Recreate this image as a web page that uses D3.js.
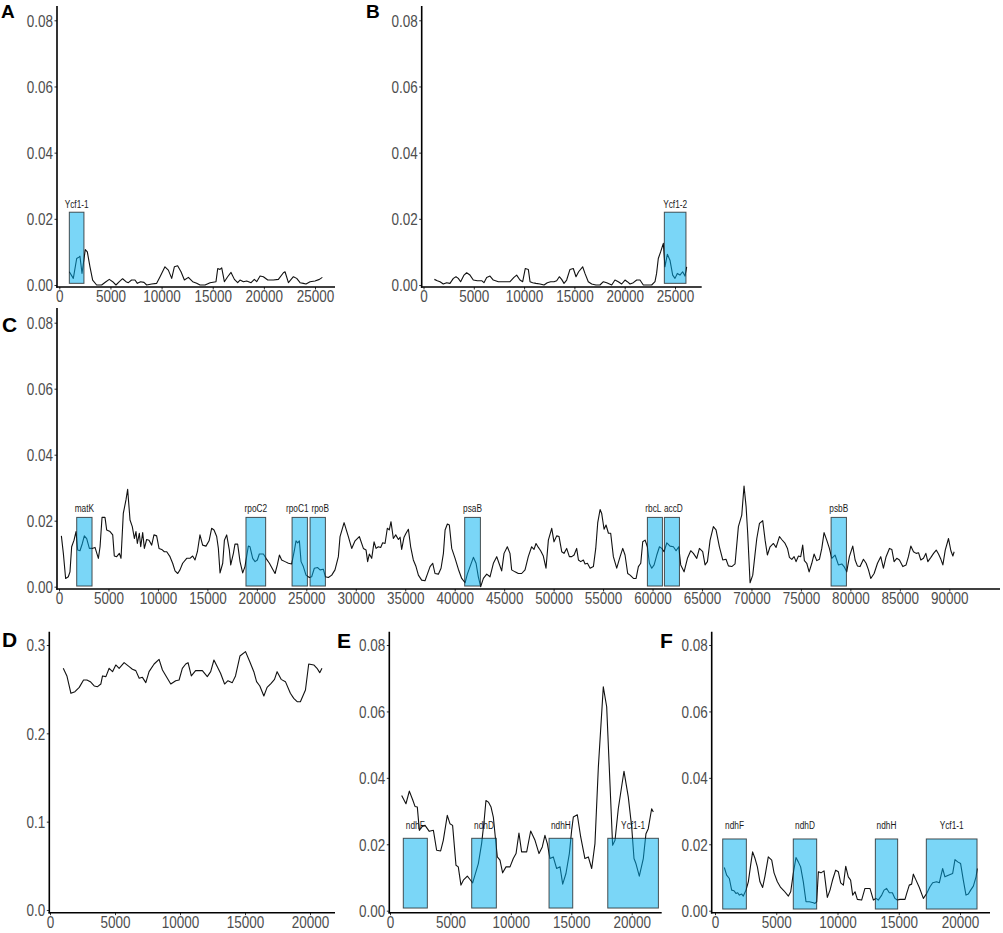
<!DOCTYPE html>
<html lang="en">
<head>
<meta charset="UTF-8">
<title>Nucleotide diversity</title>
<script src="https://d3js.org/d3.v7.min.js"></script>
<style>
  body { margin: 0; background: #fff; }
  svg { display: block; font-family: Arial, "Liberation Sans", sans-serif; }
</style>
</head>
<body>
<script>
// ---- data: window midpoint (bp) and value for each panel ----
var posA = [980,1370,1700,1960,2020,2220,2540,2740,3000,3260,3650,4140,4560,4890,5220,5540,5870,6190,6520,6750,
  7070,7400,7630,7950,8280,8540,9030,9520,9850,10330,10660,10990,11250,11570,11900,12230,12620,13040,13430,13760,
  14250,14740,15320,15490,15710,15880,16140,16460,16790,17120,17440,17670,18000,18320,18750,19070,19300,19630,19950,20380,
  20930,21420,21910,22070,22400,22890,23210,23540,23860,24120,24520,25000,25430,25720];
var valA = [0.004,0.002,0.008,0.0085,0.0087,0.0035,0.0107,0.010,0.0055,0.0015,0,0,0.001,0.0017,0.001,0,0.001,0.0019,0.001,0.0007,
  0.0015,0.0015,0.0005,0.001,0.0008,0,0.0003,0.0005,0.0025,0.0055,0.0045,0.002,0.0055,0.0058,0.004,0.0015,0.0023,0.001,0.0005,0,
  0,0.0007,0.001,0.005,0.0047,0.0052,0.001,0.0025,0.0038,0.0017,0.0007,0.0015,0.001,0.0012,0.0007,0.0017,0.001,0.0027,0.0025,0.0015,
  0.0015,0.0017,0.0037,0.004,0.0007,0.0025,0.002,0.0007,0.0005,0.0003,0.001,0.0012,0.0017,0.0023];

var posB = [1080,1370,1640,1970,2300,2630,2970,3230,3460,3690,4030,4290,4620,4950,5350,5780,6010,6280,6610,6940,
  7440,8100,8600,8990,9260,9590,9860,10120,10420,10590,10850,11180,11580,11980,12310,12640,12970,13240,13500,13730,
  13970,14230,14560,14890,15160,15420,15820,16050,16380,16720,17140,17540,17880,18210,18710,19030,19360,19700,20030,20260,
  20530,20860,21190,21520,21850,22180,22680,23010,23170,23340,23570,23840,24000,24240,24500,24770,25000,25230,25490,25760,
  25990,26160];
var valB = [0.0017,0.0013,0.001,0.0003,0.0007,0.0005,0.002,0.0025,0.002,0.001,0.003,0.0037,0.003,0.0015,0.0013,0.0013,0.0007,0.0023,0.0027,0.0015,
  0.001,0.001,0.001,0.0023,0.003,0.0015,0.001,0.005,0.0047,0.001,0.0007,0.0005,0.0003,0,0.0007,0.001,0.001,0.0013,0.0025,0.0017,
  0.0005,0.0015,0.0047,0.005,0.0025,0.004,0.0055,0.0035,0.001,0.0003,0,0,0.001,0.0007,0,0.0015,0.001,0.0003,0.0015,0.001,
  0.0003,0.0007,0.0015,0.0015,0,0,0,0.001,0.0035,0.008,0.01,0.0126,0.0055,0.0093,0.0075,0.003,0.002,0.0035,0.003,0.004,
  0.0027,0.0055];

var posC = [240,440,670,940,1110,1280,1520,1720,1890,2120,2360,2560,2800,3070,3340,3640,3980,4150,4350,4650,
  4820,5160,5430,5590,5830,6100,6270,6500,6770,6940,7180,7410,7620,7780,7920,8120,8260,8460,8630,8860,
  9100,9370,9600,9870,10110,10380,10650,10890,11220,11490,11730,12000,12230,12500,12910,13240,13510,13750,13990,14250,
  14520,14860,15170,15430,15670,15940,16110,16280,16550,16720,16950,17220,17360,17630,17790,18060,18300,18570,18800,19140,
  19310,19580,19820,20050,20250,20660,20930,21270,21600,21840,22070,22280,22510,22850,23190,23520,23790,23960,24130,24300,
  24470,24700,24970,25310,25540,25810,26150,26390,26720,26930,27230,27570,27900,28240,28410,
  28820,29250,29590,29930,30360,30770,31040,31200,31370,31610,31850,32050,32280,32520,32720,32960,33190,33390,33560,33800,
  34040,34310,34480,34640,34880,35080,35320,35550,35820,36090,36330,36660,37000,37240,37510,37780,38010,38350,38620,38860,
  39030,39260,39460,39700,40040,40370,40710,41050,41280,41550,41890,42160,42390,42630,42900,43240,43570,43910,44250,44480,
  44750,44990,45320,45590,45760,46100,46430,46770,47110,47440,47780,48020,48220,48460,48690,48960,49230,49470,49810,50040,
  50310,50550,50820,51050,51320,51590,51830,52070,52330,52510,52740,53010,53180,53420,53690,54020,54260,54460,54700,54860,
  55100,55300,55540,55770,56040,56380,56720,56990,57220,57490,57730,58070,58340,58570,58810,59010,59250,59480,59680,59920,
  60160,60430,60700,60930,61170,
  61440,61770,62110,62380,62650,62850,63190,63530,63860,64130,64470,64740,65070,65310,65550,65820,66150,66420,66760,67100,
  67430,67670,68010,68340,68680,69020,69250,69460,69620,69860,70130,70370,70540,70810,71140,71380,71610,71880,72220,72490,
  72830,73060,73400,73640,73840,74080,74310,74510,74750,74980,75180,75350,75590,75830,76100,76330,76600,76870,77110,77340,
  77610,77880,78120,78450,78790,79130,79360,79630,79900,80240,80480,80710,80980,81320,81590,81830,82060,82400,82740,83070,
  83340,83610,83950,84190,84420,84690,84960,85300,85630,85870,86110,86380,86650,86890,87120,87390,87630,87830,88140,88410,
  88680,88910,89150,89350,89590,89920,90160,90360,90490];
var valC = [0.0154,0.0101,0.0025,0.003,0.0045,0.0121,0.0141,0.0167,0.0111,0.0109,0.0131,0.0154,0.0146,0.0116,0.0116,0.0119,0.0086,0.0121,0.021,0.021,
  0.0172,0.0167,0.0157,0.0093,0.0091,0.0101,0.0086,0.0222,0.0263,0.0295,0.0202,0.0182,0.0146,0.0167,0.0131,0.0162,0.0121,0.0164,0.0116,0.0143,
  0.0141,0.0126,0.0157,0.0154,0.0116,0.0113,0.0106,0.0106,0.0091,0.0071,0.0048,0.004,0.0051,0.0071,0.0086,0.0086,0.0093,0.0081,0.0106,0.0157,
  0.0126,0.0123,0.0139,0.0177,0.0172,0.0152,0.0116,0.0042,0.0071,0.0141,0.0157,0.0111,0.0066,0.0101,0.0129,0.0129,0.0076,0.0042,0.0061,0.0123,
  0.0121,0.0086,0.0076,0.0081,0.0099,0.0099,0.0086,0.0071,0.0053,0.004,0.0066,0.0096,0.0081,0.0076,0.0071,0.0069,0.0109,0.0139,0.0133,0.0139,
  0.0076,0.0061,0.0035,0.0028,0.003,0.0056,0.0058,0.0051,0.0053,0.003,0.0028,0.0035,0.0051,0.0091,0.0152,
  0.0194,0.0152,0.0116,0.0139,0.0152,0.0116,0.0111,0.0076,0.0099,0.0086,0.0136,0.0116,0.0121,0.0119,0.0133,0.0131,0.0177,0.0172,0.0197,0.0146,
  0.0157,0.0143,0.015,0.0113,0.015,0.0162,0.0174,0.0121,0.0081,0.0061,0.0035,0.002,0.0018,0.0038,0.0061,0.0071,0.004,0.0038,0.0056,0.0101,
  0.0172,0.019,0.0187,0.0116,0.0086,0.0053,0.0025,0.0012,0.0038,0.0061,0.0089,0.0071,0.003,0,0.0025,0.0038,0.003,0.0071,0.0091,0.0071,
  0.0048,0.0101,0.0121,0.0101,0.0051,0.0045,0.004,0.004,0.0051,0.0091,0.0121,0.0113,0.0131,0.0119,0.0109,0.0093,0.0056,0.0141,0.0177,0.0136,
  0.0154,0.0152,0.0106,0.0101,0.0116,0.0091,0.0091,0.0096,0.0116,0.0081,0.0076,0.0081,0.0069,0.0071,0.0056,0.0061,0.0116,0.0194,0.0234,0.0222,
  0.0174,0.0187,0.0162,0.0162,0.0091,0.0056,0.0091,0.0116,0.0096,0.004,0.0035,0.0025,0.0025,0.0061,0.0071,0.0136,0.0141,0.0121,0.0071,0.0056,
  0.0066,0.0096,0.0121,0.0116,0.0106,
  0.0133,0.0123,0.0121,0.0109,0.0121,0.0066,0.0045,0.0086,0.0109,0.0101,0.0086,0.0116,0.0106,0.0066,0.0076,0.0141,0.0182,0.0172,0.0121,0.0081,
  0.0083,0.0063,0.0061,0.0069,0.0182,0.0217,0.0305,0.0242,0.0162,0.0012,0.0035,0.0101,0.0146,0.0192,0.02,0.0141,0.0096,0.0121,0.0131,0.0119,
  0.0152,0.0143,0.0131,0.0116,0.0089,0.0083,0.0091,0.0076,0.0093,0.0091,0.0126,0.0079,0.0071,0.0045,0.0071,0.0099,0.0079,0.0083,0.0116,0.0164,
  0.0141,0.0116,0.0086,0.0096,0.0066,0.0069,0.0061,0.0045,0.0091,0.0123,0.0081,0.0063,0.0061,0.0083,0.0071,0.0051,0.0025,0.004,0.0071,0.0091,
  0.0056,0.0091,0.0116,0.0113,0.0076,0.0086,0.0081,0.0061,0.0066,0.0091,0.0123,0.0106,0.0101,0.0103,0.0081,0.0086,0.0101,0.0076,0.0089,0.0101,
  0.0111,0.0099,0.0083,0.0066,0.0111,0.0146,0.0109,0.0093,0.0106];

var posD = [1020,1300,1610,1920,2250,2580,2840,3100,3400,3660,3910,4040,4300,4550,4810,5060,5320,5700,6090,6340,
  6600,6860,7110,7370,7620,8010,8390,8650,8980,9290,9670,9930,10180,10440,10620,10870,11200,11720,12100,12360,
  12610,12870,13120,13430,13690,14020,14270,14610,15040,15370,15680,15890,16140,16450,16700,17010,17270,17470,17780,18110,
  18490,18750,19010,19260,19650,19900,20290,20540,20750,20920];
var valD = [0.2736,0.265,0.2453,0.2472,0.252,0.2604,0.2604,0.2585,0.2536,0.2528,0.2558,0.265,0.2642,0.2736,0.2698,0.2774,0.2736,0.28,0.2755,0.2725,
  0.271,0.2623,0.2634,0.2574,0.2698,0.2785,0.2838,0.2717,0.2634,0.2558,0.2596,0.2604,0.2736,0.2785,0.28,0.265,0.271,0.271,0.2642,0.2698,
  0.283,0.2755,0.268,0.2558,0.2596,0.2574,0.265,0.2875,0.2925,0.2811,0.2698,0.2585,0.2536,0.2423,0.252,0.2566,0.2611,0.2698,0.2611,0.2585,
  0.2453,0.2396,0.2358,0.2358,0.249,0.2785,0.2774,0.2736,0.2687,0.2736];

var posE = [965,1320,1600,1875,2070,2260,2430,2620,2900,3250,3590,3860,4190,4410,4740,4960,5180,5460,5650,5870,
  6070,6400,6620,6840,7030,7310,7580,7780,7940,8140,8360,8550,8740,8880,9100,9320,9600,9930,10200,10430,
  10670,10890,11310,11640,12000,12330,12600,12820,13020,13240,13510,13790,14070,14290,14560,14840,15030,15170,15500,15780,
  16130,16410,16690,16960,17240,17650,17930,18420,18620,18890,19360,19720,20000,20190,20350,20630,20960,21180,21370,21650,
  21790];
var valE = [0.0347,0.0322,0.036,0.0334,0.0314,0.0312,0.0242,0.0252,0.0257,0.0239,0.0242,0.0182,0.018,0.0212,0.0287,0.0262,0.0257,0.0137,0.0132,0.0077,
  0.0092,0.0104,0.0094,0.0084,0.0107,0.0142,0.0202,0.0267,0.0332,0.0327,0.0312,0.0282,0.0212,0.0162,0.0152,0.0114,0.0132,0.0132,0.0157,0.0172,
  0.0234,0.0177,0.0177,0.024,0.0212,0.0172,0.0192,0.0227,0.0202,0.0157,0.0162,0.0127,0.0132,0.008,0.0112,0.0172,0.0242,0.0282,0.0289,0.0222,
  0.0157,0.0162,0.0127,0.0202,0.0432,0.0674,0.0614,0.0197,0.0212,0.0307,0.042,0.0342,0.0252,0.0157,0.0142,0.0104,0.0157,0.0232,0.0247,0.0307,
  0.0297];

var posF = [760,950,1170,1360,1550,1710,1850,1990,2180,2310,2530,2720,2910,3070,3270,3460,3670,3890,4080,4350,
  4630,4820,5090,5360,5630,5990,6180,6390,6610,6800,6990,7210,7430,7700,8030,8160,8300,8440,8650,8900,
  9170,9390,9610,9850,10070,10260,10480,10670,10880,11070,11240,11430,11620,11970,12240,12650,12930,13140,13330,13610,
  13800,14010,14230,14480,14690,14880,15100,15510,15650,15860,16050,16190,16410,16680,17010,17280,17550,17770,18090,18310,
  18580,18770,19050,19400,19590,19810,20050,20270,20490,20680,20870,21090,21310,21410];
var valF = [0.013,0.0107,0.0097,0.0062,0.006,0.0052,0.0054,0.0047,0.005,0.0044,0.0062,0.0087,0.0137,0.0177,0.0157,0.0132,0.0087,0.007,0.0104,0.0162,
  0.0152,0.0114,0.0087,0.007,0.006,0.0044,0.0057,0.0112,0.016,0.0147,0.0132,0.0087,0.0027,0.0027,0.0024,0.0022,0.0027,0.0117,0.0114,0.012,
  0.004,0.0062,0.0094,0.0122,0.0117,0.0084,0.0077,0.0134,0.0102,0.0092,0.0047,0.0057,0.0034,0.0032,0.0067,0.0067,0.0032,0.0037,0.0032,0.0047,
  0.0062,0.0067,0.0054,0.0054,0.0037,0.0032,0.0034,0.0034,0.0052,0.0077,0.008,0.011,0.0092,0.007,0.0037,0.0052,0.0072,0.0084,0.0087,0.0084,
  0.0127,0.0102,0.0107,0.0112,0.0154,0.0147,0.0142,0.0092,0.0047,0.005,0.0062,0.0074,0.0102,0.0127];

// ---- highlighted genes (name, start, end) ----
var genesA = ['Ycf1-1'], startA = [980], endA = [2410];
var genesB = ['Ycf1-2'], startB = [23940], endB = [26090];
var genesC = ['matK', 'rpoC2', 'rpoC1', 'rpoB', 'psaB', 'rbcL', 'accD', 'psbB'];
var startC = [1790, 18900, 23560, 25380, 41010, 59480, 61200, 78050];
var endC = [3340, 20890, 25110, 26930, 42600, 61000, 62720, 79600];
var genesE = ['ndhF', 'ndhD', 'ndhH', 'Ycf1-1'], startE = [1100, 6760, 13160, 18020], endE = [3090, 8800, 15120, 22210];
var genesF = ['ndhF', 'ndhD', 'ndhH', 'Ycf1-1'], startF = [630, 6390, 13090, 17250], endF = [2560, 8300, 14910, 21390];

// ---- tick labels ----
var xTicks25k = [0, 5000, 10000, 15000, 20000, 25000];
var xTicks90k = d3.range(0, 90001, 5000);
var xTicks20k = [0, 5000, 10000, 15000, 20000];
var yTicksPi = [0, 0.02, 0.04, 0.06, 0.08];
var yTicksD = [0, 0.1, 0.2, 0.3];

var width = 1003, height = 933;
var svg = d3.select('body').append('svg').attr('width', width).attr('height', height);

function zip(a, b) { return a.map((d, i) => [d, b[i]]); }

// layout of each panel (pixel frame + reference ticks)
var panels = [
  {tag: 'A', tagXY: [1, 18], tagSize: 19, data: zip(posA, valA), genes: genesA, gs: startA, ge: endA,
   boxY: [0.0005, 0.022], labY: 0.0245, nudge: [0],
   frame: {l: 57, t: 6, r: 335, b: 287}, xd: [0, 25000], xr: [59.3, 315], yd: [0, 0.08], yr: [285, 20.3],
   xt: xTicks25k, yt: yTicksPi, fmt: '.2f'},
  {tag: 'B', tagXY: [366, 18], tagSize: 19, data: zip(posB, valB), genes: genesB, gs: startB, ge: endB,
   boxY: [0.0005, 0.022], labY: 0.0245, nudge: [0],
   frame: {l: 421.7, t: 6, r: 701.7, b: 287}, xd: [0, 25000], xr: [423.5, 675], yd: [0, 0.08], yr: [285, 20.3],
   xt: xTicks25k, yt: yTicksPi, fmt: '.2f'},
  {tag: 'C', tagXY: [2, 332], tagSize: 21, data: zip(posC, valC), genes: genesC, gs: startC, ge: endC,
   boxY: [0.0002, 0.021], labY: 0.0238, nudge: [0, 0, -2.5, 2.5, 0, -1.5, 1.5, 0],
   frame: {l: 57, t: 308, r: 1000, b: 589}, xd: [0, 90000], xr: [59, 949.3], yd: [0, 0.08], yr: [586.7, 322.7],
   xt: xTicks90k, yt: yTicksPi, fmt: '.2f'},
  {tag: 'D', tagXY: [2, 647], tagSize: 21, data: zip(posD, valD), genes: [], gs: [], ge: [],
   boxY: [0, 0], labY: 0, nudge: [],
   frame: {l: 49.3, t: 631.7, r: 335, b: 912.7}, xd: [0, 20000], xr: [50, 310], yd: [0, 0.3], yr: [910, 645],
   xt: xTicks20k, yt: yTicksD, fmt: '.1f'},
  {tag: 'E', tagXY: [337, 648], tagSize: 21, data: zip(posE, valE), genes: genesE, gs: startE, ge: endE,
   boxY: [0.0008, 0.0218], labY: 0.0258, nudge: [0, 0, 0, 0],
   frame: {l: 389.3, t: 631.7, r: 661.7, b: 912.7}, xd: [0, 20000], xr: [390, 631.7], yd: [0, 0.08], yr: [910.7, 645],
   xt: xTicks20k, yt: yTicksPi, fmt: '.2f'},
  {tag: 'F', tagXY: [660, 648], tagSize: 21, data: zip(posF, valF), genes: genesF, gs: startF, ge: endF,
   boxY: [0.0005, 0.0216], labY: 0.0258, nudge: [0, 0, 0, 0],
   frame: {l: 711.7, t: 631.7, r: 990, b: 912.7}, xd: [0, 20000], xr: [715, 960], yd: [0, 0.08], yr: [910.7, 645],
   xt: xTicks20k, yt: yTicksPi, fmt: '.2f'}
];

var textStretch = 1.2; // the figure's text is slightly taller than wide

panels.forEach(drawPanel);

function drawPanel(p) {
  var x = d3.scaleLinear().domain(p.xd).range(p.xr);
  var y = d3.scaleLinear().domain(p.yd).range(p.yr);
  var g = svg.append('g');

  // the sliding-window curve
  var line = d3.line().x(d => x(d[0])).y(d => y(d[1]));
  g.append('path')
    .datum(p.data)
    .attr('d', line)
    .attr('fill', 'none')
    .attr('stroke', '#111')
    .attr('stroke-width', 1.1)
    .attr('stroke-linejoin', 'round');

  // gene boxes drawn over the line (semi-transparent)
  var idx = p.genes.map((d, i) => i);
  g.selectAll('rect.gene').data(idx).enter().append('rect')
    .attr('class', 'gene')
    .attr('x', i => x(p.gs[i]))
    .attr('width', i => x(p.ge[i]) - x(p.gs[i]))
    .attr('y', y(p.boxY[1]))
    .attr('height', y(p.boxY[0]) - y(p.boxY[1]))
    .attr('fill', '#00b0f0')
    .attr('fill-opacity', 0.52)
    .attr('stroke', '#1a1a1a')
    .attr('stroke-opacity', 0.75)
    .attr('stroke-width', 1);

  g.selectAll('text.gene').data(idx).enter().append('text')
    .attr('class', 'gene')
    .attr('text-anchor', 'middle')
    .attr('font-size', '8.3px')
    .attr('fill', '#1a1a1a')
    .attr('transform', i => 'translate(' + ((x(p.gs[i]) + x(p.ge[i])) / 2 + p.nudge[i]) + ',' + (y(p.labY) + 4) + ') scale(1,1.3)')
    .text(i => p.genes[i]);

  // y axis
  var ya = g.append('g')
    .attr('transform', 'translate(' + p.frame.l + ',0)')
    .call(d3.axisLeft(y).tickValues(p.yt).tickSize(2.5).tickFormat(d3.format(p.fmt)));
  ya.select('.domain').remove();
  ya.attr('font-size', null).attr('font-family', null);
  ya.selectAll('.tick line').attr('stroke', '#333');
  ya.selectAll('.tick text')
    .attr('x', null).attr('dy', null)
    .attr('fill', '#4d4d4d')
    .attr('font-size', '13.5px')
    .attr('transform', 'translate(-4,5.8) scale(1,' + textStretch + ')');

  // x axis
  var xa = g.append('g')
    .attr('transform', 'translate(0,' + p.frame.b + ')')
    .call(d3.axisBottom(x).tickValues(p.xt).tickSize(2.5).tickFormat(d3.format('d')));
  xa.select('.domain').remove();
  xa.attr('font-size', null).attr('font-family', null);
  xa.selectAll('.tick line').attr('stroke', '#333');
  xa.selectAll('.tick text')
    .attr('y', null).attr('dy', null)
    .attr('fill', '#4d4d4d')
    .attr('font-size', '13.5px')
    .attr('transform', 'translate(0,15.4) scale(1,' + textStretch + ')');

  // axis lines
  g.append('line')
    .attr('x1', p.frame.l).attr('x2', p.frame.l)
    .attr('y1', p.frame.t).attr('y2', p.frame.b + 0.8)
    .attr('stroke', '#000').attr('stroke-width', 1.6);
  g.append('line')
    .attr('x1', p.frame.l - 0.8).attr('x2', p.frame.r)
    .attr('y1', p.frame.b).attr('y2', p.frame.b)
    .attr('stroke', '#000').attr('stroke-width', 1.6);

  // panel tag
  svg.append('text')
    .attr('x', p.tagXY[0]).attr('y', p.tagXY[1])
    .attr('font-size', p.tagSize + 'px')
    .attr('font-weight', 'bold')
    .attr('fill', '#000')
    .text(p.tag);
}
</script>
</body>
</html>
